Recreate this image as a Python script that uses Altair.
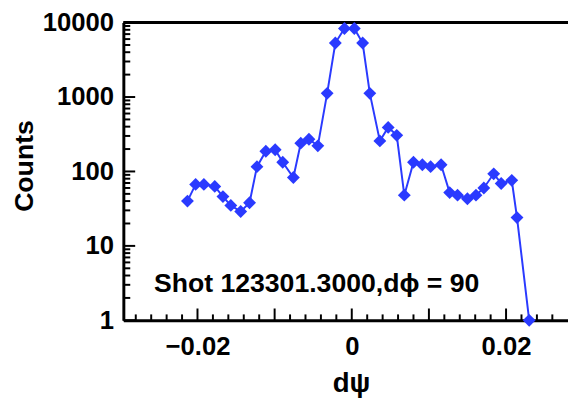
import altair as alt
import pandas as pd

# data
dpsi = [-0.02130, -0.02024, -0.01917, -0.01776, -0.01670, -0.01568, -0.01440, -0.01325,
        -0.01229, -0.01114, -0.00993, -0.00895, -0.00757, -0.00661, -0.00555, -0.00440,
        -0.00319, -0.00213, -0.00095, 0.00033, 0.00141, 0.00234, 0.00364, 0.00472,
        0.00583, 0.00681, 0.00800, 0.00915, 0.01022, 0.01158, 0.01269, 0.01371,
        0.01499, 0.01610, 0.01712, 0.01840, 0.01937, 0.02074, 0.02142, 0.02300]
counts = [40, 67, 67, 63, 46, 35, 29, 38,
          116, 187, 196, 133, 83, 240, 271, 221,
          1120, 5320, 8340, 8340, 5320, 1120, 257, 391,
          306, 48, 133, 123, 116, 123, 52, 48,
          43, 48, 60, 93, 69, 76, 24, 1]

x_major = [-0.02, -0.01, 0.0, 0.01, 0.02]
x_minor = [v / 1000 for v in range(-28, 28, 2) if v % 10 != 0]
x_labels = [-0.02, 0.0, 0.02]
y_major = [1, 10, 100, 1000, 10000]
y_minor = [m * d for d in [1, 10, 100, 1000] for m in range(2, 10)]

note_text = ["Shot 123301.3000,d\u03d5 = 90"]
note_x = [-0.02565]
note_y = [2.42]

BLUE = "#2a3aff"
REG = "Liberation Sans, Arial, sans-serif"

W, H = 451, 302

xscale = alt.Scale(domain=[-0.02961, 0.02803], nice=False, zero=False)
yscale = alt.Scale(type="log", domain=[1, 10000], nice=False)

xaxis = alt.Axis(values=x_labels, format=".2~f", ticks=False, tickSize=0, grid=False,
                 domainWidth=3, domainColor="black",
                 labelFont=REG, labelFontSize=26, labelFontWeight="bold", labelColor="black",
                 labelBaseline="alphabetic", labelPadding=35,
                 title="d\u03c8", titleFont=REG, titleFontSize=28, titleFontWeight="bold",
                 titleColor="black", titleX=231, titleY=72, titleBaseline="alphabetic",
                 titleAlign="center")
yaxis = alt.Axis(values=y_major, format="d", ticks=False, tickSize=0, grid=False,
                 domainWidth=3, domainColor="black",
                 labelFont=REG, labelFontSize=26, labelFontWeight="bold", labelColor="black",
                 labelPadding=10, labelBaseline="middle",
                 title="Counts", titleFont=REG, titleFontSize=27, titleFontWeight="bold",
                 titleColor="black", titleAngle=270, titleX=-100, titleY=145,
                 titleBaseline="middle", titleAlign="center")

X = alt.X("dpsi:Q", scale=xscale, axis=xaxis)
Y = alt.Y("counts:Q", scale=yscale, axis=yaxis)

df = pd.DataFrame({"dpsi": dpsi, "counts": counts})

line = alt.Chart(df).mark_line(color=BLUE, strokeWidth=2, clip=False).encode(x=X, y=Y)
pts = alt.Chart(df).mark_point(shape="diamond", filled=True, size=170, color=BLUE,
                               opacity=1, clip=False).encode(x=X, y=Y)

ymaj = alt.Chart(pd.DataFrame({"counts": y_major})).mark_rule(
    color="black", strokeWidth=2).encode(y=Y, x=alt.value(0), x2=alt.value(12))
ymin = alt.Chart(pd.DataFrame({"counts": y_minor})).mark_rule(
    color="black", strokeWidth=2).encode(y=Y, x=alt.value(0), x2=alt.value(7))
xmaj = alt.Chart(pd.DataFrame({"dpsi": x_major})).mark_rule(
    color="black", strokeWidth=2).encode(x=X, y=alt.value(H), y2=alt.value(H - 12))
xmin = alt.Chart(pd.DataFrame({"dpsi": x_minor})).mark_rule(
    color="black", strokeWidth=2).encode(x=X, y=alt.value(H), y2=alt.value(H - 6))
top = alt.Chart(pd.DataFrame({"dpsi": [0.0]})).mark_rule(
    color="black", strokeWidth=3).encode(x=alt.value(0), x2=alt.value(W), y=alt.value(0))

note = alt.Chart(pd.DataFrame({"dpsi": note_x, "counts": note_y, "t": note_text})).mark_text(
    font=REG, fontSize=27, fontWeight="bold", color="black", align="left",
    baseline="alphabetic").encode(x=X, y=Y, text="t:N")

chart = alt.layer(ymaj, ymin, xmaj, xmin, top, line, pts, note).properties(
    width=W, height=H,
    padding={"left": 117, "top": 12, "right": 0, "bottom": 77},
    autosize=alt.AutoSizeParams(type="none"),
).configure_view(stroke=None).configure(background="white")

chart.save("out.html", embed_options={"renderer": "svg", "actions": False})
